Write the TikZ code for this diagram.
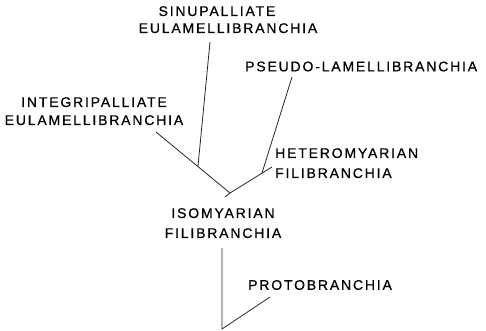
\documentclass[tikz,border=0pt]{standalone}
\usepackage{fontspec}
\newfontfamily\taxonfont{Liberation Sans}[LetterSpace=13, FakeBold=0.6]
\usetikzlibrary{positioning}

\begin{document}
\begin{tikzpicture}[x=1pt, y=-1pt]

\tikzset{
  taxon/.style={
    inner sep=0pt, align=center,
    font=\taxonfont\fontsize{14}{18}\selectfont
  },
  branch/.style={draw=black!85, line width=0.8pt}
}

\useasboundingbox (0,0) rectangle (486,331);

% ==========================
% Etiquetas
% ==========================
\node[taxon, anchor=north] (sinu) at (228,6) {SINUPALLIATE\hspace*{22pt}\\[-1pt]EULAMELLIBRANCHIA};
\node[taxon, anchor=west] (pseudo) at (245,66.5) {PSEUDO-LAMELLIBRANCHIA};
\node[taxon, anchor=north] (integri) at (94,97) {INTEGRIPALLIATE\\EULAMELLIBRANCHIA};
\node[taxon, anchor=north west, align=left] (hetero) at (275,148) {HETEROMYARIAN\\[2pt]FILIBRANCHIA};
\node[taxon, anchor=north] (iso) at (223,208) {ISOMYARIAN\\[2pt]FILIBRANCHIA};
\node[taxon, anchor=west] (proto) at (248,285) {PROTOBRANCHIA};

% ==========================
% Puntos del arbol
% ==========================
\coordinate (junc) at (230,193);
\coordinate (stub) at (225,197);
\coordinate (integri_end) at (156,132);
\coordinate (sinu_fork) at (198,166);
\coordinate (sinu_end) at (210,42);
\coordinate (hetero_end) at (272,167);
\coordinate (pseudo_fork) at (262,173);
\coordinate (pseudo_end) at (292,77);
\coordinate (iso_top) at (222,248);
\coordinate (root) at (222,329);
\coordinate (proto_end) at (270,297);

% ==========================
% Ramas
% ==========================
\draw[branch] (integri_end) -- (junc) -- (hetero_end);
\draw[branch] (junc) -- (stub);
\draw[branch] (sinu_fork) -- (sinu_end);
\draw[branch] (pseudo_fork) -- (pseudo_end);

% Tronco inferior
\draw[branch] (iso_top) -- (root) -- (proto_end);

\end{tikzpicture}
\end{document}
